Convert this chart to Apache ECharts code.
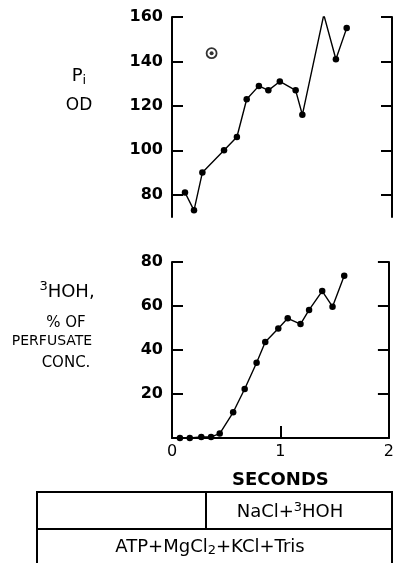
<!DOCTYPE html>
<html><head><meta charset="utf-8">
<script src="https://cdn.jsdelivr.net/npm/echarts@6/dist/echarts.min.js"></script>
<style>html,body{margin:0;padding:0;background:#fff}#c{width:397px;height:563px}</style>
</head><body><div id="c"></div>
<script>
// Top panel: Pi (OD)
const piTime = [0.118, 0.20, 0.276, 0.473, 0.59, 0.679, 0.79, 0.876, 0.98, 1.124, 1.185, 1.38, 1.49, 1.588];
const piValues = [81, 73, 90, 100, 106, 123, 129, 127, 131, 127, 116, 161, 141, 155];
const circledPoint = [[0.36, 143.7]];
const piTicks = [80, 100, 120, 140, 160];
// Bottom panel: 3HOH, % of perfusate conc.
const hohTime = [0.073, 0.164, 0.27, 0.36, 0.44, 0.564, 0.67, 0.78, 0.86, 0.98, 1.067, 1.185, 1.264, 1.385, 1.48, 1.588];
const hohValues = [0, 0, 0.5, 0.5, 2, 11.7, 22.3, 34.2, 43.6, 49.8, 54.4, 51.8, 58.2, 66.8, 59.7, 73.8];
const hohTicks = [20, 40, 60, 80];
const timeTicks = [0, 1, 2];

const chart = echarts.init(document.getElementById('c'));
const F = 'DejaVu Sans';
const line = {lineStyle:{color:'#000', width:2}};
function pairs(xs, ys){ return xs.map((x,i)=>[x, ys[i]]); }

const opt = {
  animation:false,
  backgroundColor:'#fff',
  grid:[
    {left:172, right:5, top:17, height:200},
    {left:172, right:5, top:262, height:176}
  ],
  xAxis:[
    {gridIndex:0, type:'value', min:0, max:2, show:false},
    {gridIndex:1, type:'value', min:0, max:2, interval:1,
     axisLine:line, splitLine:{show:false},
     axisTick:{inside:true, length:12, lineStyle:{color:'#000', width:2}},
     axisLabel:{customValues:timeTicks, color:'#000', fontFamily:F, fontSize:16, margin:6},
     name:'SECONDS', nameLocation:'middle', nameGap:33,
     nameTextStyle:{color:'#000', fontFamily:F, fontSize:18, fontWeight:'bold'}}
  ],
  yAxis:[
    {gridIndex:0, type:'value', min:70, max:160, position:'left',
     axisLine:{show:true, ...line}, splitLine:{show:false},
     axisTick:{inside:true, length:11, customValues:piTicks, lineStyle:{color:'#000', width:2}},
     axisLabel:{customValues:piTicks, color:'#000', fontFamily:F, fontSize:16, fontWeight:'bold', margin:9}},
    {gridIndex:0, type:'value', min:70, max:160, position:'right',
     axisLine:{show:true, ...line}, splitLine:{show:false},
     axisTick:{inside:true, length:11, customValues:piTicks, lineStyle:{color:'#000', width:2}},
     axisLabel:{show:false}},
    {gridIndex:1, type:'value', min:0, max:80, position:'left',
     axisLine:{show:true, ...line}, splitLine:{show:false},
     axisTick:{inside:true, length:11, customValues:hohTicks, lineStyle:{color:'#000', width:2}},
     axisLabel:{customValues:hohTicks, color:'#000', fontFamily:F, fontSize:16, fontWeight:'bold', margin:9}},
    {gridIndex:1, type:'value', min:0, max:80, position:'right',
     axisLine:{show:true, ...line}, splitLine:{show:false},
     axisTick:{inside:true, length:11, customValues:hohTicks, lineStyle:{color:'#000', width:2}},
     axisLabel:{show:false}}
  ],
  series:[
    {type:'line', xAxisIndex:0, yAxisIndex:0, data:pairs(piTime, piValues),
     symbol:'circle', symbolSize:6.5, itemStyle:{color:'#000'}, lineStyle:{color:'#000', width:1.4}},
    {type:'scatter', xAxisIndex:0, yAxisIndex:0, data:circledPoint, symbol:'circle', symbolSize:10,
     itemStyle:{color:'#fff', borderColor:'#000', borderWidth:1.8}},
    {type:'scatter', xAxisIndex:0, yAxisIndex:0, data:circledPoint, symbol:'circle', symbolSize:4,
     itemStyle:{color:'#000'}},
    {type:'line', xAxisIndex:1, yAxisIndex:2, data:pairs(hohTime, hohValues),
     symbol:'circle', symbolSize:6.5, itemStyle:{color:'#000'}, lineStyle:{color:'#000', width:1.4}}
  ],
  graphic:[
    {type:'text', x:79, y:76, style:{text:'{a|P}{s|i}', align:'center', verticalAlign:'middle',
      rich:{a:{fontFamily:F, fontSize:18, fill:'#000'}, s:{fontFamily:F, fontSize:13, fill:'#000', padding:[9,0,0,0]}}}},
    {type:'text', x:79, y:106, style:{text:'OD', align:'center', verticalAlign:'middle', fontFamily:F, fontSize:17, fill:'#000'}},
    {type:'text', x:67, y:292, style:{text:'{s|3}{a|HOH,}', align:'center', verticalAlign:'middle',
      rich:{a:{fontFamily:F, fontSize:18, fill:'#000'}, s:{fontFamily:F, fontSize:13, fill:'#000', padding:[0,0,10,0]}}}},
    {type:'text', x:66, y:323, style:{text:'% OF', align:'center', verticalAlign:'middle', fontFamily:F, fontSize:15, fill:'#000'}},
    {type:'text', x:52, y:341, style:{text:'PERFUSATE', align:'center', verticalAlign:'middle', fontFamily:F, fontSize:14, fill:'#000'}},
    {type:'text', x:66, y:363, style:{text:'CONC.', align:'center', verticalAlign:'middle', fontFamily:F, fontSize:15, fill:'#000'}},
    {type:'rect', shape:{x:37, y:492, width:355, height:74}, style:{fill:'none', stroke:'#000', lineWidth:2}},
    {type:'line', shape:{x1:37, y1:529, x2:392, y2:529}, style:{stroke:'#000', lineWidth:2}},
    {type:'line', shape:{x1:206, y1:492, x2:206, y2:529}, style:{stroke:'#000', lineWidth:2}},
    {type:'text', x:290, y:512, style:{text:'NaCl+{s|3}HOH', align:'center', verticalAlign:'middle',
      fontFamily:F, fontSize:18, fill:'#000',
      rich:{s:{fontFamily:F, fontSize:13, fill:'#000', padding:[0,0,9,0]}}}},
    {type:'text', x:210, y:547, style:{text:'ATP+MgCl{s|2}+KCl+Tris', align:'center', verticalAlign:'middle',
      fontFamily:F, fontSize:18, fill:'#000',
      rich:{s:{fontFamily:F, fontSize:13, fill:'#000', padding:[8,0,0,0]}}}}
  ]
};
chart.setOption(opt);
</script></body></html>
